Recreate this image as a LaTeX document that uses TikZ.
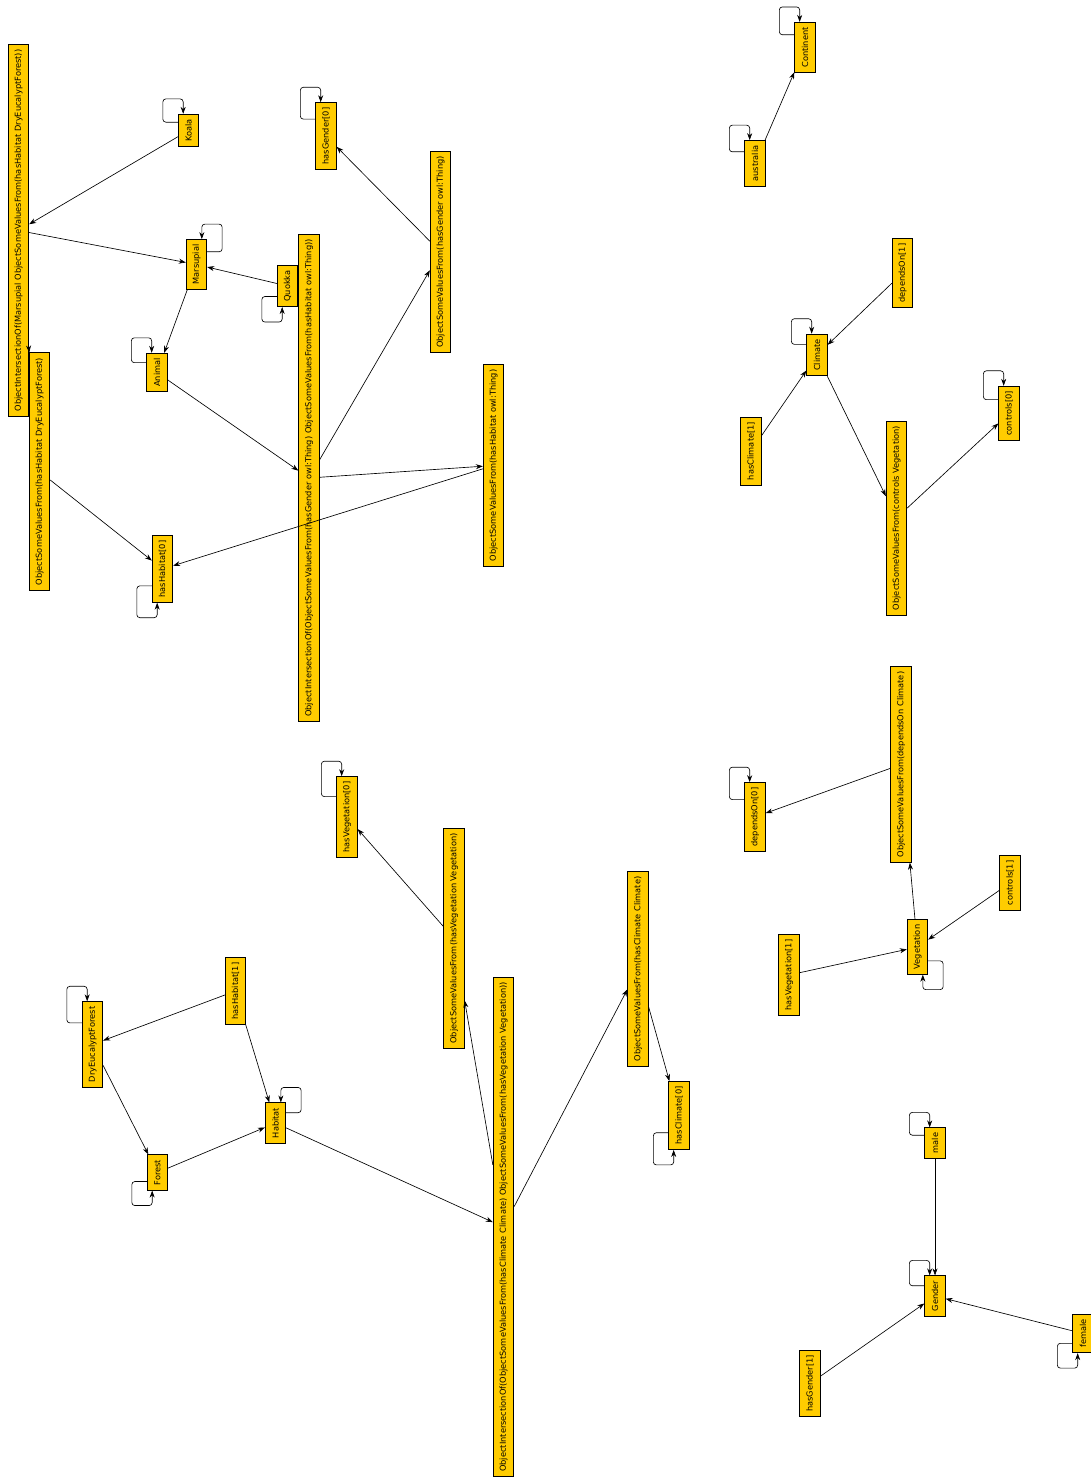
\documentclass[tikz,border=0pt]{standalone}
\usepackage{fontspec}
\newfontfamily\owlfont{DejaVu Sans}
\usetikzlibrary{arrows.meta,calc}
\definecolor{owlyellow}{HTML}{FFCC00}
\newcommand{\vlabel}[1]{\rotatebox{90}{#1}}
\newcommand{\loopNW}[1]{\draw[link, rounded corners=3pt] ($(#1.north west)!0.25!(#1.south west)$) -- ++(-15,0) |- ($(#1.north west)!0.25!(#1.north east)+(0,-15)$) -- ($(#1.north west)!0.25!(#1.north east)$);}
\newcommand{\loopNE}[1]{\draw[link, rounded corners=3pt] ($(#1.north east)!0.25!(#1.south east)$) -- ++(15,0) |- ($(#1.north east)!0.25!(#1.north west)+(0,-15)$) -- ($(#1.north east)!0.25!(#1.north west)$);}
\newcommand{\loopSW}[1]{\draw[link, rounded corners=3pt] ($(#1.south west)!0.25!(#1.north west)$) -- ++(-15,0) |- ($(#1.south west)!0.25!(#1.south east)+(0,15)$) -- ($(#1.south west)!0.25!(#1.south east)$);}
\newcommand{\loopSE}[1]{\draw[link, rounded corners=3pt] ($(#1.south east)!0.25!(#1.north east)$) -- ++(15,0) |- ($(#1.south east)!0.25!(#1.south west)+(0,15)$) -- ($(#1.south east)!0.25!(#1.south west)$);}

\begin{document}
\begin{tikzpicture}[x=1pt, y=-1pt, >={Stealth[length=7pt,width=5pt]},
    cls/.style={draw=black, fill=owlyellow, line width=0.8pt, minimum width=20.5pt, inner xsep=0pt, inner ysep=5pt, font=\owlfont\fontsize{8.25}{9.9}\selectfont},
    link/.style={->, line width=0.65pt}]
    \path[use as bounding box, fill=white] (0,0) rectangle (1091,1477);

    % marsupials
    \node[cls] (oiMarsupial) at (18.5,230.5) {\vlabel{ObjectIntersectionOf(Marsupial ObjectSomeValuesFrom(hasHabitat DryEucalyptForest))}};
    \node[cls] (svfHabDry) at (39.5,471.5) {\vlabel{ObjectSomeValuesFrom(hasHabitat DryEucalyptForest)}};
    \node[cls] (koala) at (188.5,130.5) {\vlabel{Koala}};
    \node[cls] (marsupial) at (196.5,264.5) {\vlabel{Marsupial}};
    \node[cls] (animal) at (157,372.5) {\vlabel{Animal}};
    \node[cls] (quokka) at (287.5,286) {\vlabel{Quokka}};
    \node[cls] (hasHabitat0) at (162.5,569) {\vlabel{hasHabitat[0]}};
    \node[cls] (oiGenderHab) at (309,478) {\vlabel{ObjectIntersectionOf(ObjectSomeValuesFrom(hasGender owl:Thing) ObjectSomeValuesFrom(hasHabitat owl:Thing))}};
    \node[cls] (svfGenderThing) at (440.5,252) {\vlabel{ObjectSomeValuesFrom(hasGender owl:Thing)}};
    \node[cls] (svfHabThing) at (493.5,465.5) {\vlabel{ObjectSomeValuesFrom(hasHabitat owl:Thing)}};
    \node[cls] (hasGender0) at (326,136) {\vlabel{hasGender[0]}};

    \draw[link] (koala) -- (oiMarsupial);
    \draw[link] (oiMarsupial) -- (marsupial);
    \draw[link] (quokka) -- (marsupial);
    \draw[link] (marsupial) -- (animal);
    \draw[link] (oiMarsupial) -- (svfHabDry);
    \draw[link] (svfHabDry) -- (hasHabitat0);
    \draw[link] (animal) -- (oiGenderHab);
    \draw[link] (oiGenderHab) -- (svfGenderThing);
    \draw[link] (oiGenderHab) -- (svfHabThing);
    \draw[link] (svfGenderThing) -- (hasGender0);
    \draw[link] (svfHabThing) -- (hasHabitat0);
    \loopNW{koala}
    \loopNE{marsupial}
    \loopNW{animal}
    \loopSW{quokka}
    \loopSW{hasHabitat0}
    \loopNW{hasGender0}

    % continent and climate
    \node[cls] (continent) at (805,47.5) {\vlabel{Continent}};
    \node[cls] (australia) at (755,163.5) {\vlabel{australia}};
    \node[cls] (dependsOn1) at (902.5,273) {\vlabel{dependsOn[1]}};
    \node[cls] (climate) at (817,355) {\vlabel{Climate}};
    \node[cls] (hasClimate1) at (751,451) {\vlabel{hasClimate[1]}};
    \node[cls] (svfControlsVeg) at (896.5,518) {\vlabel{ObjectSomeValuesFrom(controls Vegetation)}};
    \node[cls] (controls0) at (1009,413.5) {\vlabel{controls[0]}};

    \draw[link] (australia) -- (continent);
    \draw[link] (dependsOn1) -- (climate);
    \draw[link] (hasClimate1) -- (climate);
    \draw[link] (climate) -- (svfControlsVeg);
    \draw[link] (svfControlsVeg) -- (controls0);
    \loopNW{continent}
    \loopNW{australia}
    \loopNW{climate}
    \loopNW{controls0}

    % vegetation
    \node[cls] (svfDependsClimate) at (901,764.5) {\vlabel{ObjectSomeValuesFrom(dependsOn Climate)}};
    \node[cls] (dependsOn0) at (755,817) {\vlabel{dependsOn[0]}};
    \node[cls] (vegetation) at (917.5,947) {\vlabel{Vegetation}};
    \node[cls] (controls1) at (1010,883) {\vlabel{controls[1]}};
    \node[cls] (hasVegetation1) at (789,975) {\vlabel{hasVegetation[1]}};

    \draw[link] (svfDependsClimate) -- (dependsOn0);
    \draw[link] (vegetation) -- (svfDependsClimate);
    \draw[link] (controls1) -- (vegetation);
    \draw[link] (hasVegetation1) -- (vegetation);
    \loopNW{dependsOn0}
    \loopSE{vegetation}

    % gender
    \node[cls] (male) at (935,1143) {\vlabel{male}};
    \node[cls] (gender) at (935,1296) {\vlabel{Gender}};
    \node[cls] (female) at (1083,1333.5) {\vlabel{female}};
    \node[cls] (hasGender1) at (810,1383.5) {\vlabel{hasGender[1]}};

    \draw[link] (male) -- (gender);
    \draw[link] (female) -- (gender);
    \draw[link] (hasGender1) -- (gender);
    \loopNW{male}
    \loopNW{gender}
    \loopSW{female}

    % habitat
    \node[cls] (dryEucalyptForest) at (92.5,1044.5) {\vlabel{DryEucalyptForest}};
    \node[cls] (hasHabitat1) at (235.5,991) {\vlabel{hasHabitat[1]}};
    \node[cls] (habitat) at (275.5,1123) {\vlabel{Habitat}};
    \node[cls] (forest) at (157.5,1172.5) {\vlabel{Forest}};
    \node[cls] (hasVegetation0) at (347,817) {\vlabel{hasVegetation[0]}};
    \node[cls] (svfHasVeg) at (454,938.5) {\vlabel{ObjectSomeValuesFrom(hasVegetation Vegetation)}};
    \node[cls] (svfHasClimate) at (638,969) {\vlabel{ObjectSomeValuesFrom(hasClimate Climate)}};
    \node[cls] (oiClimVeg) at (503.5,1227) {\vlabel{ObjectIntersectionOf(ObjectSomeValuesFrom(hasClimate Climate) ObjectSomeValuesFrom(hasVegetation Vegetation))}};
    \node[cls] (hasClimate0) at (679,1115.5) {\vlabel{hasClimate[0]}};

    \draw[link] (hasHabitat1) -- (dryEucalyptForest);
    \draw[link] (hasHabitat1) -- (habitat);
    \draw[link] (dryEucalyptForest) -- (forest);
    \draw[link] (forest) -- (habitat);
    \draw[link] (habitat) -- (oiClimVeg);
    \draw[link] (svfHasVeg) -- (hasVegetation0);
    \draw[link] (oiClimVeg) -- (svfHasVeg);
    \draw[link] (oiClimVeg) -- (svfHasClimate);
    \draw[link] (svfHasClimate) -- (hasClimate0);
    \loopNW{dryEucalyptForest}
    \loopNE{habitat}
    \loopSW{forest}
    \loopNW{hasVegetation0}
    \loopSW{hasClimate0}
\end{tikzpicture}
\end{document}
